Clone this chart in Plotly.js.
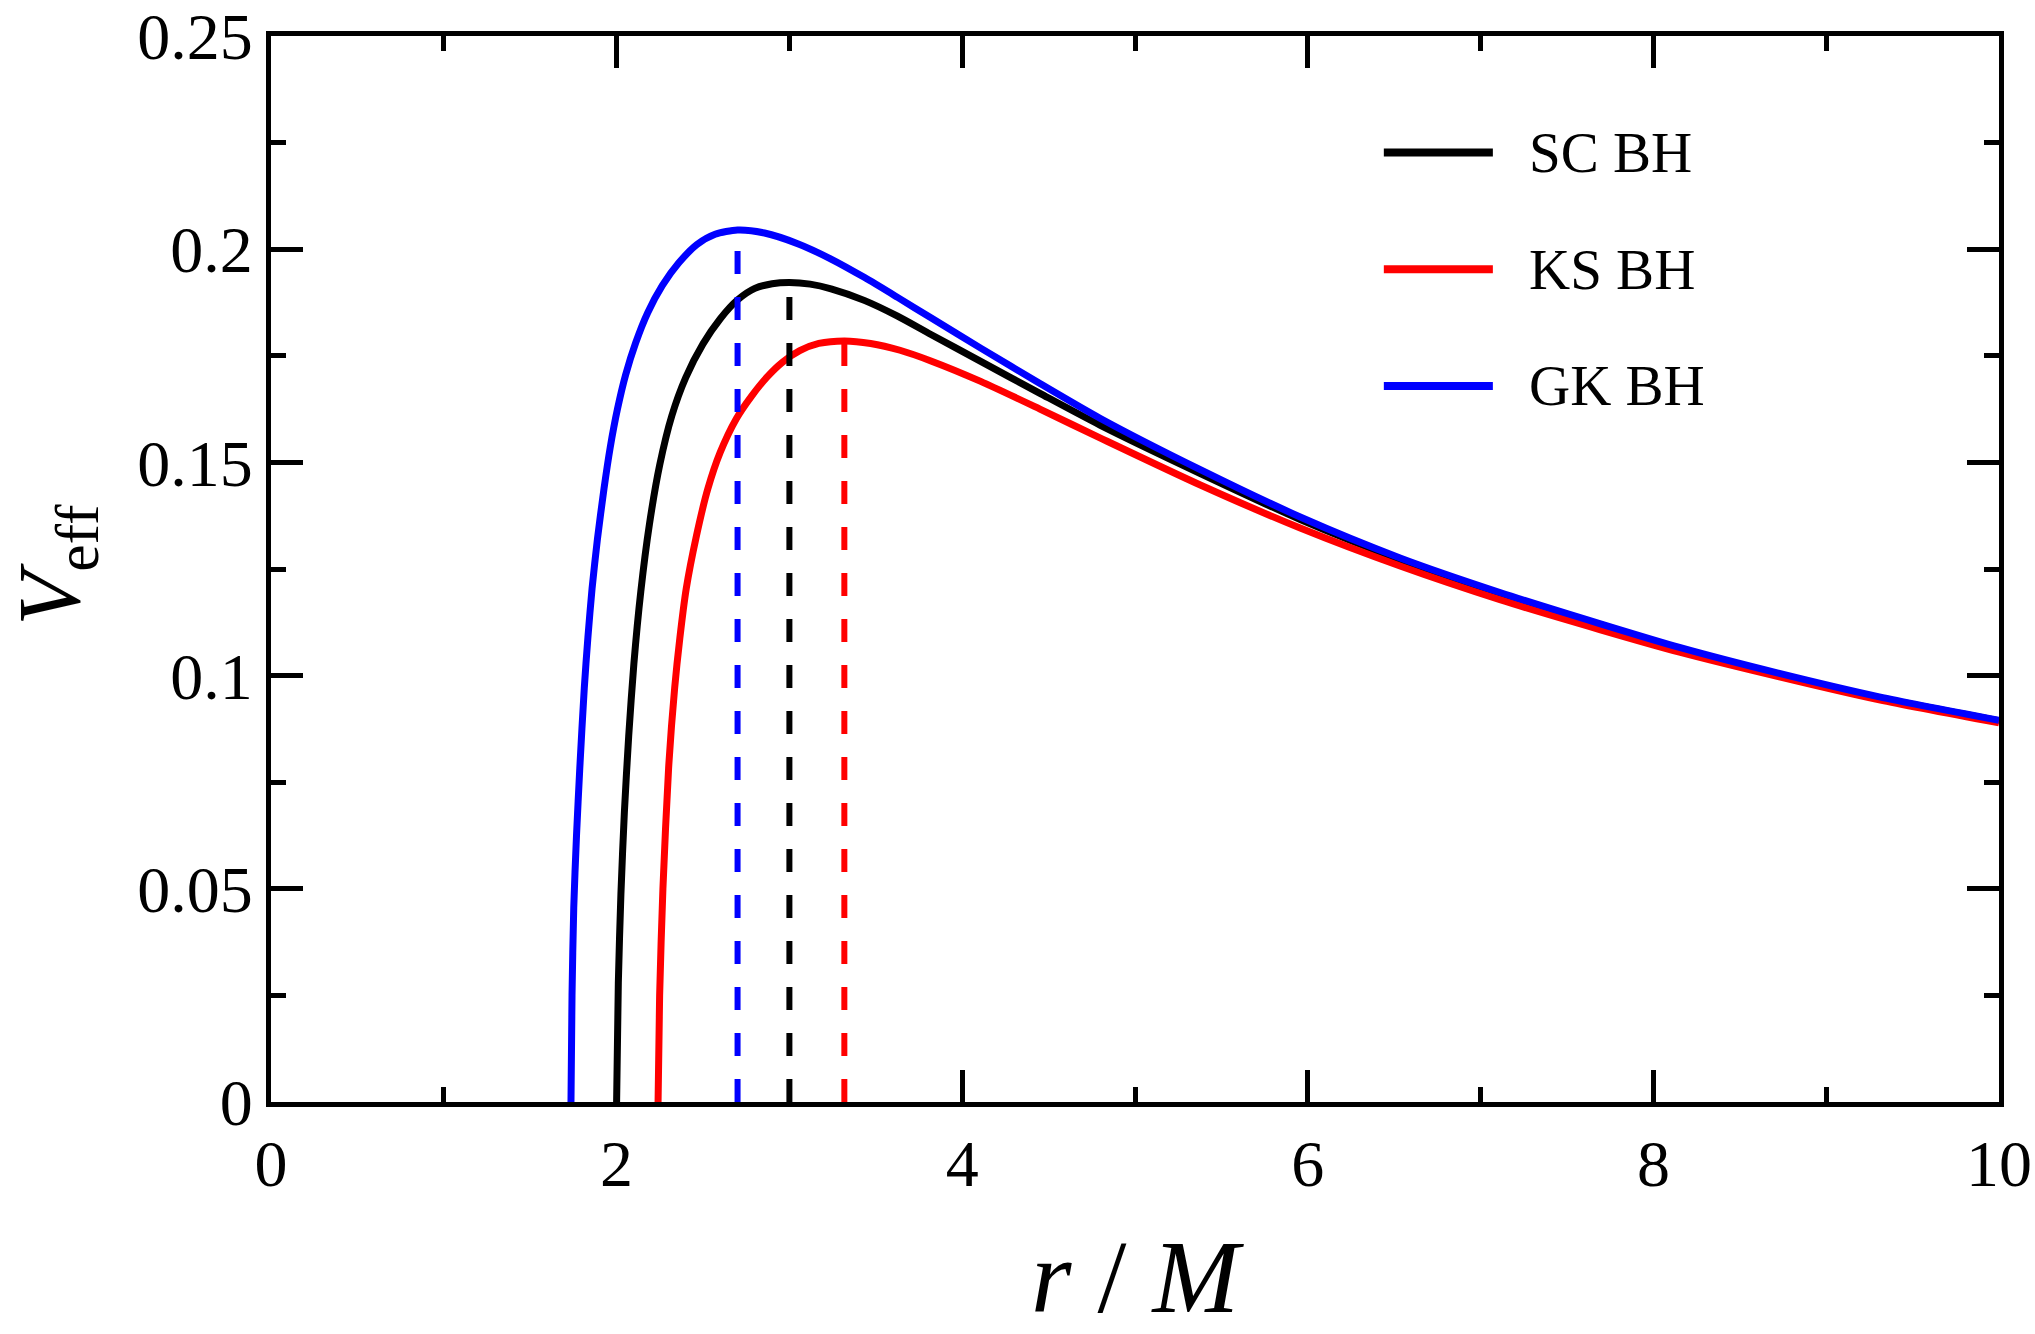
<!DOCTYPE html>
<html>
<head>
<meta charset="utf-8">
<script src="https://cdn.plot.ly/plotly-3.0.1.min.js"></script>
<style>
  body { margin: 0; background: #fff; }
  #plot { width: 2035px; height: 1334px; }
</style>
</head>
<body>
<div id="plot"></div>
<script>
// Effective potential, values (r in units of M)

// SC BH (black)
const scR = [2.0, 2.01, 2.025, 2.045, 2.07, 2.1, 2.14, 2.19, 2.25, 2.32, 2.4, 2.5, 2.6, 2.7, 2.8, 2.9, 3.0, 3.12, 3.241, 3.433, 3.626, 3.819, 4.107, 4.45, 4.8, 5.378, 5.956, 6.534, 7.112, 7.689, 8.151, 8.729, 9.307, 10];
const scV = [0, 0.0279, 0.0488, 0.068, 0.0858, 0.1028, 0.1197, 0.1355, 0.1495, 0.161, 0.1699, 0.1778, 0.1837, 0.1881, 0.1908, 0.1919, 0.1922, 0.1918, 0.1907, 0.188, 0.1843, 0.18, 0.1737, 0.1662, 0.1587, 0.1474, 0.1366, 0.1272, 0.1192, 0.112, 0.1064, 0.1003, 0.0948, 0.0894];

// KS BH (red)
const ksR = [2.24, 2.249, 2.268, 2.301, 2.336, 2.366, 2.403, 2.46, 2.528, 2.6, 2.692, 2.78, 2.87, 2.96, 3.06, 3.17, 3.318, 3.47, 3.64, 3.819, 4.107, 4.45, 4.8, 5.378, 5.956, 6.534, 7.112, 7.689, 8.151, 8.729, 9.307, 10];
const ksV = [0, 0.025, 0.05, 0.0783, 0.0971, 0.1088, 0.1204, 0.1324, 0.1438, 0.1524, 0.1602, 0.1655, 0.17, 0.1735, 0.1762, 0.1779, 0.1785, 0.1779, 0.1763, 0.1738, 0.169, 0.1625, 0.1557, 0.1447, 0.1346, 0.1257, 0.1178, 0.1108, 0.1055, 0.0997, 0.0943, 0.0889];

// GK BH (blue)
const gkR = [1.736, 1.742, 1.752, 1.768, 1.787, 1.813, 1.834, 1.858, 1.889, 1.927, 1.963, 2.005, 2.052, 2.11, 2.18, 2.265, 2.36, 2.465, 2.57, 2.7, 2.856, 3.048, 3.241, 3.433, 3.626, 3.819, 4.107, 4.45, 4.8, 5.378, 5.956, 6.534, 7.112, 7.689, 8.151, 8.729, 9.307, 10];
const gkV = [0, 0.025, 0.0456, 0.0625, 0.0783, 0.0971, 0.109, 0.1204, 0.132, 0.1438, 0.1535, 0.1625, 0.1705, 0.178, 0.1851, 0.1915, 0.1968, 0.2011, 0.2035, 0.2045, 0.2038, 0.2013, 0.1977, 0.1934, 0.1887, 0.1839, 0.1768, 0.1685, 0.1603, 0.1483, 0.1372, 0.1276, 0.1195, 0.1122, 0.1066, 0.1005, 0.095, 0.0895];

// peak of each potential, marked with a dashed drop line
const peakR = [3.0, 3.318, 2.7];
const peakV = [0.1922, 0.1785, 0.2045];

const names = ["SC BH", "KS BH", "GK BH"];
const colors = ["#000000", "#FF0000", "#0000FF"];
const curvesR = [scR, ksR, gkR];
const curvesV = [scV, ksV, gkV];

const xTicks = [0, 2, 4, 6, 8, 10];
const yTicks = [0, 0.05, 0.1, 0.15, 0.2, 0.25];
const yTickText = ["0", "0.05", "0.1", "0.15", "0.2", "0.25"];

const serif = '"Liberation Serif", "Times New Roman", Times, serif';

const traces = [];
for (let i = 0; i < 3; i++) {
    traces.push({
        x: curvesR[i],
        y: curvesV[i],
        type: "scatter",
        mode: "lines",
        name: names[i],
        line: { color: colors[i], width: 7, shape: "spline", smoothing: 0.7 },
        hoverinfo: "skip"
    });
}
for (let i = 0; i < 3; i++) {
    traces.push({
        x: [peakR[i], peakR[i]],
        y: [0, peakV[i]],
        type: "scatter",
        mode: "lines",
        showlegend: false,
        line: { color: colors[i], width: 6, dash: "23px,23px" },
        hoverinfo: "skip"
    });
}

// hand made legend so the sample lines get their long look
const legendY = [0.8906, 0.7811, 0.6717];
const shapes = [];
const annotations = [];
for (let i = 0; i < 3; i++) {
    shapes.push({
        type: "line", xref: "paper", yref: "paper",
        x0: 0.644, x1: 0.7071, y0: legendY[i], y1: legendY[i],
        line: { color: colors[i], width: 8 }
    });
    annotations.push({
        xref: "paper", yref: "paper",
        x: 0.727, y: legendY[i],
        xanchor: "left", yanchor: "middle",
        text: names[i], showarrow: false,
        font: { family: serif, size: 57, color: "#000" }
    });
}

// y axis title placed by hand, the axis title gets pinned to the margin edge
annotations.push({
    xref: "paper", yref: "paper",
    x: -0.1245, y: 0.504,
    xanchor: "center", yanchor: "middle",
    textangle: -90,
    text: "<i>V</i><sub>eff</sub>", showarrow: false,
    font: { family: serif, size: 88, color: "#000" }
});

const axisCommon = {
    showline: true, linewidth: 5, linecolor: "#000",
    mirror: "ticks",
    ticks: "inside", ticklen: 32, tickwidth: 5, tickcolor: "#000",
    showgrid: false, zeroline: false,
    ticklabeloverflow: "allow",
    tickfont: { family: serif, size: 66, color: "#000" }
};

const layout = {
    width: 2035, height: 1334,
    margin: { l: 271, r: 36, t: 36, b: 232 },
    paper_bgcolor: "#fff", plot_bgcolor: "#fff",
    showlegend: false,
    xaxis: Object.assign({}, axisCommon, {
        range: [0, 10], tickmode: "array", tickvals: xTicks,
        minor: { dtick: 1, tick0: 0, ticks: "inside", ticklen: 15, tickwidth: 5, tickcolor: "#000", showgrid: false },
        title: { text: "<i>r</i> / <i>M</i>", font: { family: serif, size: 104, color: "#000" }, standoff: 45 }
    }),
    yaxis: Object.assign({}, axisCommon, {
        range: [0, 0.25], tickmode: "array", tickvals: yTicks, ticktext: yTickText,
        minor: { dtick: 0.025, tick0: 0, ticks: "inside", ticklen: 15, tickwidth: 5, tickcolor: "#000", showgrid: false }
    }),
    shapes: shapes,
    annotations: annotations
};

Plotly.newPlot("plot", traces, layout, { staticPlot: true });
</script>
</body>
</html>
